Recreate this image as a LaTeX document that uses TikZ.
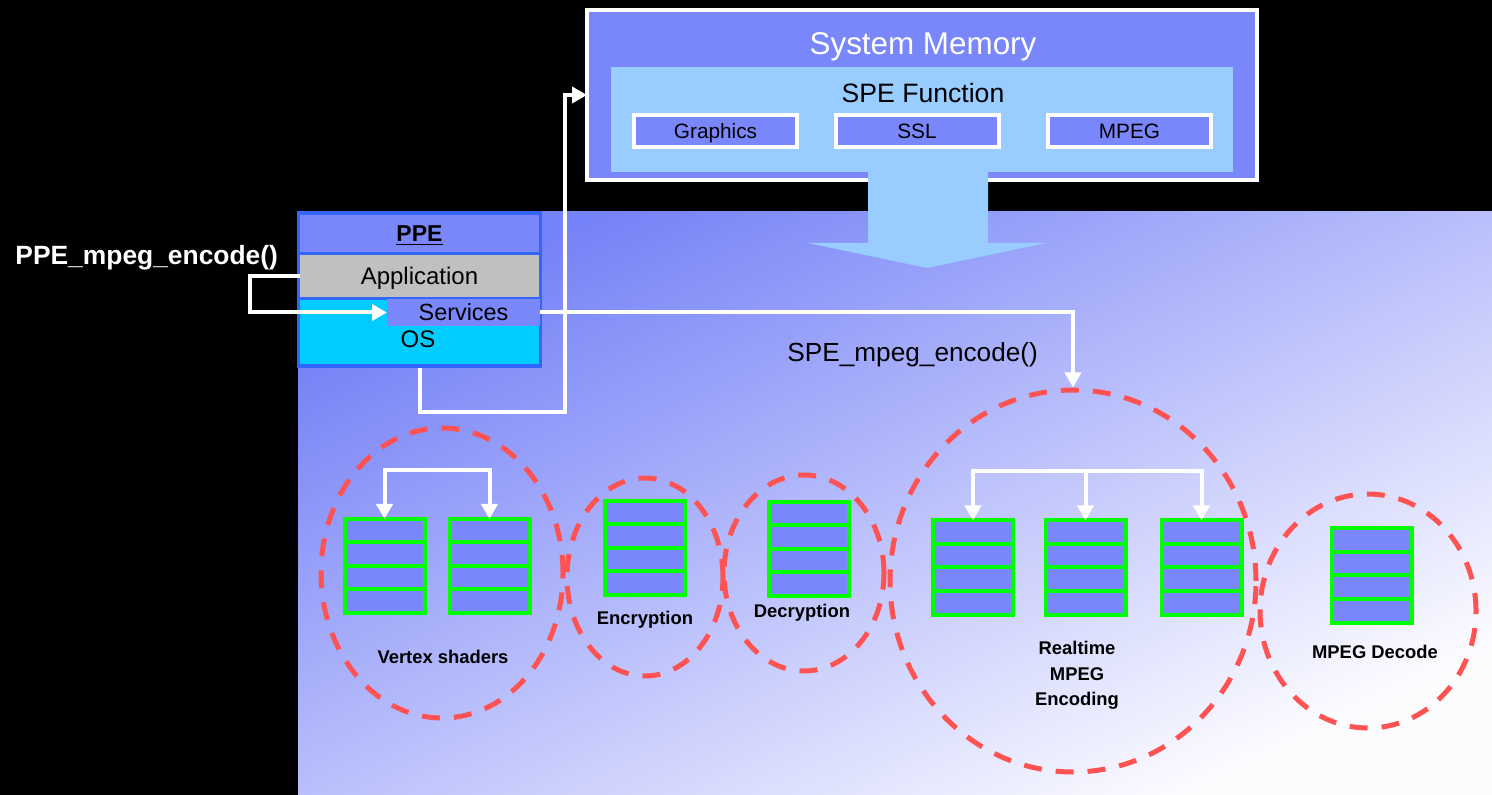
\documentclass[tikz,border=0pt]{standalone}
\usepackage{fontspec}
\setmainfont{Liberation Sans}
\usetikzlibrary{arrows.meta,shapes.geometric,calc}
\definecolor{memblue}{RGB}{121,135,250}
\definecolor{speblue}{RGB}{153,204,255}
\definecolor{oscyan}{RGB}{0,204,255}
\definecolor{appgray}{RGB}{192,192,192}
\definecolor{ppeborder}{RGB}{51,102,255}
\definecolor{dashred}{RGB}{255,82,82}
\definecolor{stkgreen}{RGB}{0,255,0}
\definecolor{gradA}{RGB}{118,130,247}
\definecolor{gradB}{RGB}{252,252,255}
\newcommand{\stackbox}[2]{%
  \node[stk] (#1) at (#2) {};
  \foreach \f in {0.25,0.5,0.75}
    \draw[stkgreen, line width=2pt] ($(#1.north west)!\f!(#1.south west)$) -- ($(#1.north east)!\f!(#1.south east)$);
}
\begin{document}
\begin{tikzpicture}[x=0.5pt,y=-0.5pt,
  box/.style={rectangle, inner sep=0pt, outer sep=0pt},
  capc/.style={text height=#1, text depth=0pt},
  whitebox/.style={box, draw=white, line width=2pt, fill=memblue},
  wline/.style={draw=white, line width=2pt},
  warrow/.style={wline, -{Triangle[length=7.5pt,width=8pt]}},
  stk/.style={box, draw=stkgreen, line width=2pt, fill=memblue, minimum width=40pt, minimum height=47pt},
  ring/.style={ellipse, inner sep=0pt, draw=dashred, line width=2.5pt, dash pattern=on 9pt off 7pt},
  lbl/.style={font=\fontsize{9.2}{11}\selectfont\bfseries, text=black, inner sep=0pt, capc=6.6pt},
]
% background
\fill[black] (0,0) rectangle (1492,795);
\shade[top color=gradA, bottom color=gradB, shading angle=26] (298,212) rectangle (1492,795);

% system memory
\node[whitebox, minimum width=335pt, minimum height=85pt] (sysmem) at (922,95) {};
\node[box, fill=speblue, minimum width=311pt, minimum height=52.5pt] (spe) at (922,119.5) {};
\node[text=white, font=\fontsize{15.7}{19}\selectfont, inner sep=0pt, capc=11.2pt] (smt) at (923,43) {System Memory};
\node[font=\fontsize{13.3}{16}\selectfont, inner sep=0pt, capc=9.5pt] (spet) at (923,93) {SPE Function};
\node[whitebox, minimum width=81.5pt, minimum height=16pt, font=\fontsize{10.4}{12}\selectfont, capc=7.4pt] (gfx) at (715.5,131) {Graphics};
\node[whitebox, minimum width=81.5pt, minimum height=16pt, font=\fontsize{10.4}{12}\selectfont, capc=7.4pt] (ssl) at (917,131) {SSL};
\node[whitebox, minimum width=81.5pt, minimum height=16pt, font=\fontsize{10.4}{12}\selectfont, capc=7.4pt] (mpg) at (1129.5,131) {MPEG};
\fill[speblue] (868,172) -- (988,172) -- (988,243) -- (1046,243) -- (927,268) -- (808,243) -- (868,243) -- cycle;

% PPE
\node[box, fill=ppeborder, minimum width=122.5pt, minimum height=78.5pt] (ppe) at (419.5,289.5) {};
\node[box, fill=memblue, minimum width=119.5pt, minimum height=18.5pt, font=\fontsize{11.5}{14}\selectfont, capc=8.2pt] (hdr) at (419.5,233.5) {\underline{\textbf{PPE}}};
\node[box, fill=appgray, minimum width=119.5pt, minimum height=21pt, font=\fontsize{12}{14}\selectfont, capc=8.6pt] (app) at (419.5,276) {Application};
\node[box, fill=oscyan, minimum width=119.5pt, minimum height=32pt] (os) at (419.5,332) {};
\node[inner sep=0pt, font=\fontsize{12}{14}\selectfont, capc=8.6pt] (ost) at (418,338.5) {OS};
\node[box, fill=memblue, minimum width=76.5pt, minimum height=13.5pt, font=\fontsize{11.7}{14}\selectfont, capc=8.4pt] (svc) at (463.5,312.5) {Services};

\node[anchor=west, text=white, font=\fontsize{13.2}{16}\selectfont\bfseries, inner sep=0pt, capc=9.5pt] (ppelbl) at (15,255) {PPE\_mpeg\_encode()};
\node[anchor=west, font=\fontsize{13.1}{16}\selectfont, inner sep=0pt, capc=9.4pt] (spelbl) at (787,352) {SPE\_mpeg\_encode()};

% rings
\node[ring, minimum width=121pt, minimum height=145pt] (c1) at (442,573) {};
\node[ring, minimum width=78pt, minimum height=99pt] (c2) at (645,577) {};
\node[ring, minimum width=80pt, minimum height=98pt] (c3) at (804,573) {};
\node[ring, minimum width=183pt, minimum height=191pt] (c4) at (1073,581) {};
\node[ring, minimum width=108pt, minimum height=117pt] (c5) at (1368,611) {};

% connectors
\coordinate (k1) at (250,276);
\draw[warrow] (app.west) -- (k1) |- (svc.west);
\coordinate (k2) at (565,412);
\draw[warrow] (ppe.south) |- (k2) |- (sysmem.west);
\draw[warrow] (svc.east) -| (c4.north);

% stacks
\stackbox{v1}{384.5,566}
\stackbox{v2}{489.5,566}
\stackbox{enc}{644.5,548}
\stackbox{dec}{808.5,549}
\stackbox{r1}{973,567.5}
\stackbox{r2}{1085.5,567.5}
\stackbox{r3}{1201.5,567.5}
\stackbox{md}{1371.5,575.5}

\coordinate (vj) at ($(v1.north)!0.5!(v2.north)+(0,-49)$);
\draw[warrow] (vj) -| (v1.north);
\draw[warrow] (vj) -| (v2.north);
\coordinate (rj) at ($(r2.north)+(0,-49)$);
\draw[warrow] (rj) -| (r1.north);
\draw[warrow] (rj) -| (r3.north);
\draw[warrow] (rj) -- (r2.north);

% labels
\node[lbl] (vsl) at (443,657) {Vertex shaders};
\node[lbl] (encl) at (645,617.5) {Encryption};
\node[lbl] (decl) at (802,611) {Decryption};
\node[font=\fontsize{9.2}{12.75}\selectfont\bfseries, inner sep=0pt, align=center] (rtl) at (1077,675.5) {Realtime\\MPEG\\Encoding};
\node[lbl] (mdl) at (1375,651.5) {MPEG Decode};
\end{tikzpicture}
\end{document}
